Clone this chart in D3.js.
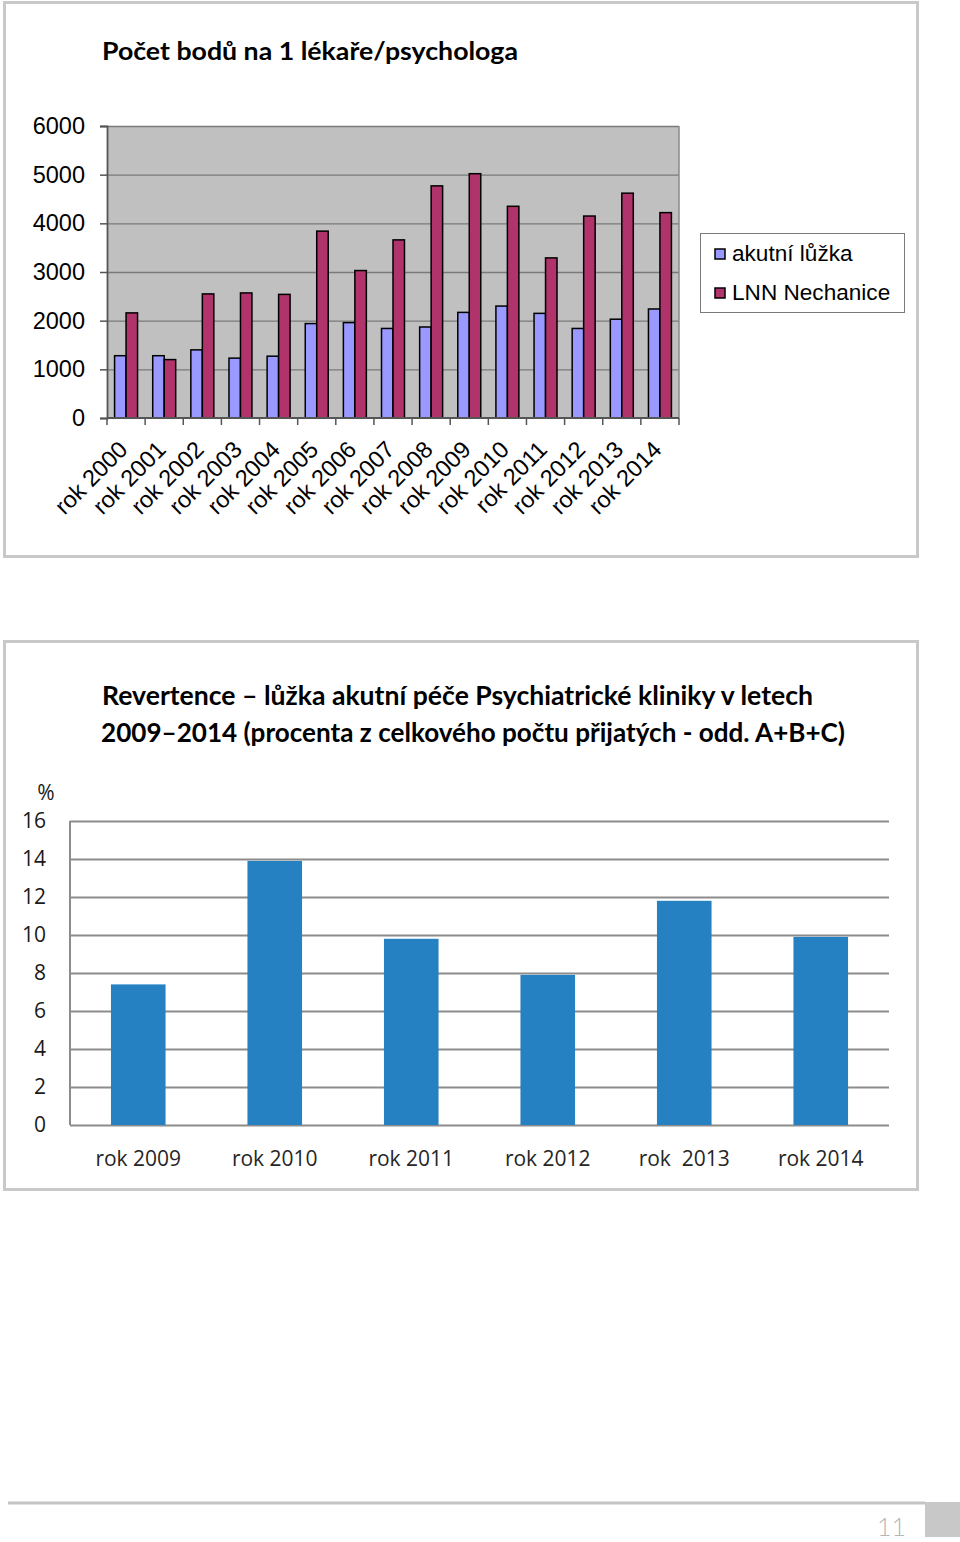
<!DOCTYPE html>
<html><head><meta charset="utf-8">
<script src="https://cdn.jsdelivr.net/npm/d3@7"></script>
<style>
html,body{margin:0;padding:0;background:#fff;}
svg{display:block;}
</style>
</head><body>
<svg id="c" width="960" height="1542"></svg>
<script>
// ---------- data ----------
const years = ["rok 2000","rok 2001","rok 2002","rok 2003","rok 2004","rok 2005","rok 2006","rok 2007","rok 2008","rok 2009","rok 2010","rok 2011","rok 2012","rok 2013","rok 2014"];
const seriesNames = ["akutní lůžka","LNN Nechanice"];
const akutniLuzka = [1280,1280,1400,1230,1270,1940,1960,1840,1870,2170,2300,2150,1840,2030,2240];
const lnnNechanice = [2160,1200,2550,2570,2540,3840,3030,3660,4770,5020,4350,3290,4150,4620,4220];
const yTicks1 = [0,1000,2000,3000,4000,5000,6000];

const revYears = ["rok 2009","rok 2010","rok 2011","rok 2012","rok  2013","rok 2014"];
const revValues = [7.4,13.9,9.8,7.9,11.8,9.9];
const yTicks2 = [0,2,4,6,8,10,12,14,16];

const title1 = "Počet bodů na 1 lékaře/psychologa";
const title2a = "Revertence – lůžka akutní péče Psychiatrické kliniky v letech";
const title2b = "2009–2014 (procenta z celkového počtu přijatých - odd. A+B+C)";
const pageNumber = "11";

const svg = d3.select("#c");
const colors = ["#9999ff","#b0336b"];

// ---------- panel borders ----------
svg.append("rect").attr("x",4.5).attr("y",2.5).attr("width",913).attr("height",554)
  .attr("fill","#fff").attr("stroke","#c8c8c8").attr("stroke-width",3);
svg.append("rect").attr("x",4.5).attr("y",641.5).attr("width",913).attr("height",548)
  .attr("fill","#fff").attr("stroke","#c8c8c8").attr("stroke-width",3);

// ---------- chart 1 ----------
svg.append("text").attr("x",102).attr("y",60).text(title1)
  .attr("font-family","Lato").attr("font-weight",700).attr("font-size",24)
  .attr("textLength",416).attr("lengthAdjust","spacingAndGlyphs").attr("fill","#000");

const p1 = {l:107,r:679,t:126,b:418};
const y1 = d3.scaleLinear().domain([0,6000]).range([p1.b,p1.t]);
const x1 = d3.scaleBand().domain(years).range([p1.l,p1.r]).padding(0);
const xs = d3.scaleBand().domain(seriesNames).range([0,x1.bandwidth()]).paddingInner(0).paddingOuter(0.66);

const g1 = svg.append("g");
g1.append("rect").attr("x",p1.l).attr("y",p1.t).attr("width",p1.r-p1.l).attr("height",p1.b-p1.t).attr("fill","#c0c0c0");

// gridlines
const grid1 = g1.append("g").attr("transform",`translate(${p1.l},0)`)
  .call(d3.axisLeft(y1).tickValues(yTicks1.slice(1)).tickSize(-(p1.r-p1.l)).tickFormat(""));
grid1.select(".domain").remove();
grid1.selectAll("line").attr("stroke","#7a7a7a").attr("stroke-width",1.3);
// right border
g1.append("line").attr("x1",p1.r).attr("x2",p1.r).attr("y1",p1.t).attr("y2",p1.b).attr("stroke","#8a8a8a").attr("stroke-width",1.5);

// bars
const data1 = years.map((y,i)=>({year:y, vals:[akutniLuzka[i], lnnNechanice[i]]}));
const grp = g1.selectAll("g.yr").data(data1).join("g").attr("class","yr")
  .attr("transform",d=>`translate(${x1(d.year)},0)`);
grp.selectAll("rect").data(d=>d.vals.map((v,k)=>({k,v}))).join("rect")
  .attr("x",d=>xs(seriesNames[d.k])).attr("width",xs.bandwidth())
  .attr("y",d=>y1(d.v)).attr("height",d=>y1(0)-y1(d.v))
  .attr("fill",d=>colors[d.k]).attr("stroke","#000").attr("stroke-width",1.5);

// y axis
const ya = g1.append("g").attr("transform",`translate(${p1.l},0)`)
  .call(d3.axisLeft(y1).tickValues(yTicks1).tickSize(7).tickPadding(15).tickFormat(d3.format("d")));
ya.select(".domain").attr("stroke","#555").attr("stroke-width",1.8);
ya.selectAll("line").attr("stroke","#555").attr("stroke-width",1.5);
ya.selectAll("text").attr("font-family","Liberation Sans, Arial, sans-serif").attr("font-size",23.5).attr("fill","#000");

// x axis
g1.append("line").attr("x1",p1.l).attr("x2",p1.r).attr("y1",p1.b).attr("y2",p1.b).attr("stroke","#555").attr("stroke-width",1.8);
const bounds = years.map(d=>x1(d)).concat([x1.range()[1]]);
g1.selectAll("line.xt").data(bounds).join("line").attr("class","xt")
  .attr("x1",d=>d).attr("x2",d=>d).attr("y1",p1.b).attr("y2",p1.b+7).attr("stroke","#555").attr("stroke-width",1.5);
g1.selectAll("text.xl").data(years).join("text").attr("class","xl")
  .attr("transform",d=>`translate(${x1(d)+x1.bandwidth()/2+3},451) rotate(-45)`)
  .attr("text-anchor","end").attr("font-family","Liberation Sans, Arial, sans-serif").attr("font-size",23.5)
  .attr("fill","#000").text(d=>d);

// legend
const lg = svg.append("g");
lg.append("rect").attr("x",700.5).attr("y",233.5).attr("width",204).attr("height",79).attr("fill","#fff").attr("stroke","#7a7a7a").attr("stroke-width",1);
seriesNames.forEach((s,i)=>{
  lg.append("rect").attr("x",715).attr("y",249+i*39).attr("width",10).attr("height",10)
    .attr("fill",colors[i]).attr("stroke","#000").attr("stroke-width",1.5);
  lg.append("text").attr("x",732).attr("y",261+i*39).text(s)
    .attr("font-family","Liberation Sans, Arial, sans-serif").attr("font-size",22.6).attr("fill","#000");
});

// ---------- chart 2 ----------
svg.append("text").attr("x",102).attr("y",705).text(title2a)
  .attr("font-family","Lato").attr("font-weight",700).attr("font-size",26)
  .attr("textLength",711).attr("lengthAdjust","spacingAndGlyphs").attr("fill","#000");
svg.append("text").attr("x",101).attr("y",742).text(title2b)
  .attr("font-family","Lato").attr("font-weight",700).attr("font-size",26)
  .attr("textLength",744).attr("lengthAdjust","spacingAndGlyphs").attr("fill","#000");

const p2 = {l:70,r:889,t:821,b:1125};
const y2 = d3.scaleLinear().domain([0,16]).range([p2.b,p2.t]);
const x2 = d3.scaleBand().domain(revYears).range([p2.l,p2.r]).paddingInner(0.6).paddingOuter(0.3);
const g2 = svg.append("g");

const grid2 = g2.append("g").attr("transform",`translate(${p2.l},0)`)
  .call(d3.axisLeft(y2).tickValues(yTicks2).tickSize(-(p2.r-p2.l)).tickFormat(""));
grid2.select(".domain").remove();
grid2.selectAll("line").attr("stroke","#8c8c8c").attr("stroke-width",2);
g2.append("line").attr("x1",p2.l).attr("x2",p2.l).attr("y1",p2.t).attr("y2",p2.b).attr("stroke","#8c8c8c").attr("stroke-width",2);

g2.selectAll("rect.b").data(revValues).join("rect").attr("class","b")
  .attr("x",(d,i)=>x2(revYears[i])).attr("width",x2.bandwidth())
  .attr("y",d=>y2(d)).attr("height",d=>y2(0)-y2(d)).attr("fill","#2681c3");

const ya2 = g2.append("g").attr("transform",`translate(${p2.l},0)`)
  .call(d3.axisLeft(y2).tickValues(yTicks2).tickSize(0).tickPadding(24));
ya2.select(".domain").remove();
ya2.selectAll("text").attr("font-family","Open Sans").attr("font-size",21).attr("fill","#1a1a1a");
g2.append("text").attr("x",46).attr("y",793).attr("text-anchor","middle").attr("dy","0.35em")
  .attr("font-family","Open Sans").attr("font-size",21).attr("fill","#1a1a1a").text("%");

g2.selectAll("text.xl2").data(revYears).join("text").attr("class","xl2")
  .attr("x",d=>x2(d)+x2.bandwidth()/2).attr("y",1166).attr("text-anchor","middle")
  .attr("font-family","Open Sans").attr("font-size",21).attr("fill","#262626")
  .style("white-space","pre").text(d=>d);

// ---------- footer ----------
svg.append("line").attr("x1",8).attr("x2",925).attr("y1",1503).attr("y2",1503).attr("stroke","#c4c4c4").attr("stroke-width",3);
svg.append("rect").attr("x",925).attr("y",1502).attr("width",35).attr("height",35).attr("fill","#c8c8c8");
svg.append("text").attr("x",906).attr("y",1536).attr("text-anchor","end")
  .attr("font-family","Lato").attr("font-weight",300).attr("font-size",25).attr("fill","#b5b5b5").text(pageNumber);
</script>
</body></html>
